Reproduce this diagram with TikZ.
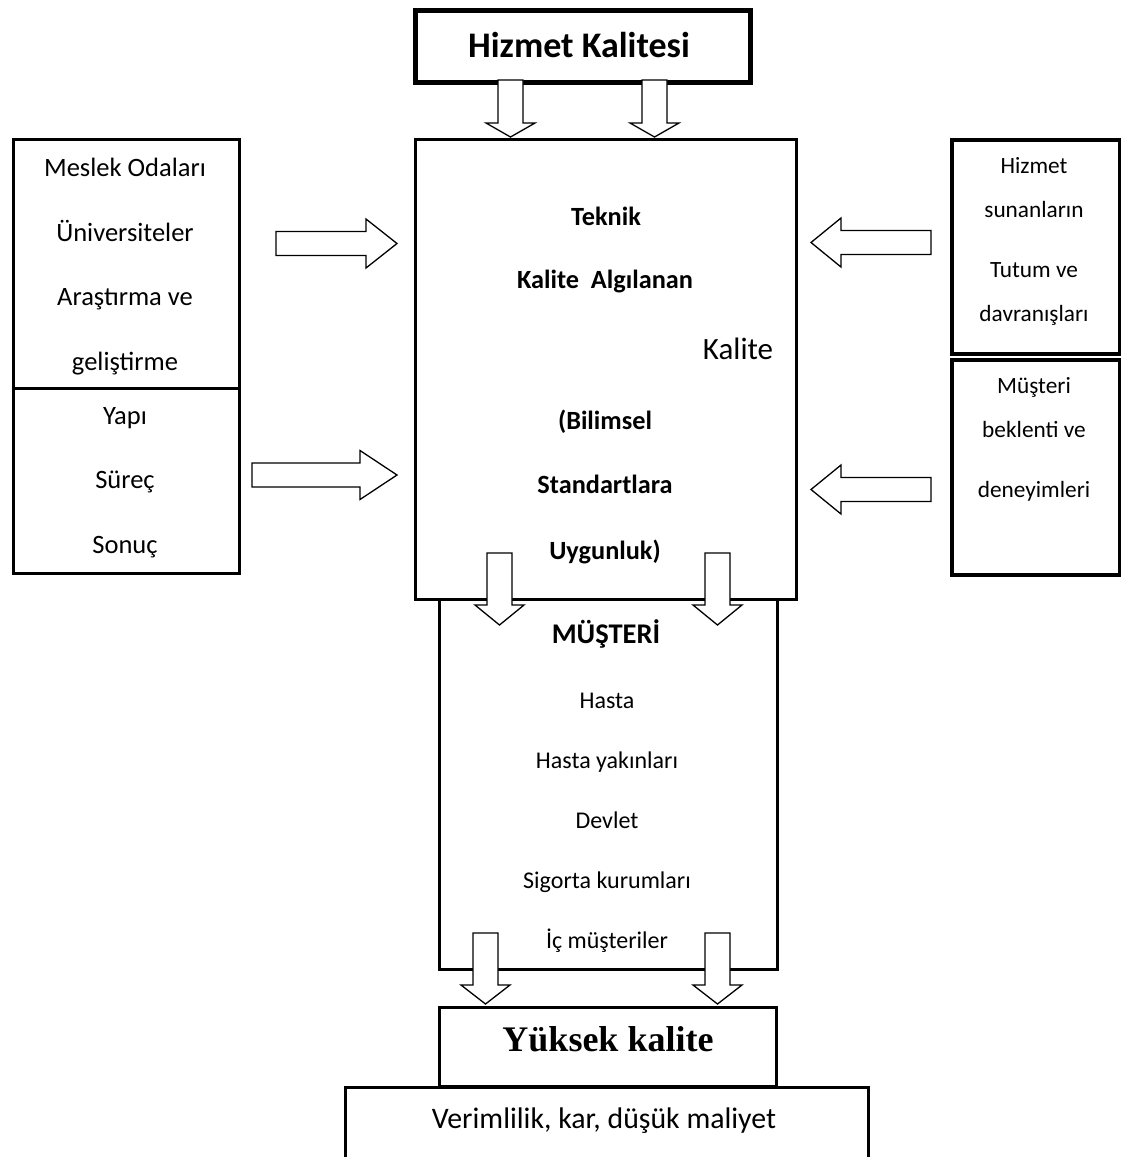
\documentclass[tikz,border=0pt]{standalone}
\usepackage{fontspec}
\setmainfont{Carlito}
\newfontfamily\timesf{Liberation Serif}
\tikzset{
  box/.style={draw, line width=3.2pt, rectangle, inner sep=0pt, anchor=north west},
  barrow/.style={draw, fill=white, line width=1.3pt, line join=miter},
  tl/.style={anchor=base, inner sep=0pt, font=\fontsize{26.5}{30}\selectfont},
  tr/.style={anchor=base, inner sep=0pt, font=\fontsize{23.3}{27}\selectfont},
  tc/.style={anchor=base, inner sep=0pt, font=\fontsize{26.3}{30}\selectfont\bfseries},
  tm/.style={anchor=base, inner sep=0pt, font=\fontsize{24}{27}\selectfont},
}
\newcommand\darr[4]{\draw[barrow] ({#1-12.5},#2) -- ({#1+12.5},#2) -- ({#1+12.5},#3) -- ({#1+24.5},#3) -- (#1,#4) -- ({#1-24.5},#3) -- ({#1-12.5},#3) -- cycle;}
\newcommand\rarr[4]{\draw[barrow] (#1,{#4-12}) -- (#2,{#4-12}) -- (#2,{#4-24.5}) -- (#3,#4) -- (#2,{#4+24.5}) -- (#2,{#4+12}) -- (#1,{#4+12}) -- cycle;}
\begin{document}
\begin{tikzpicture}[x=1pt,y=-1pt]
\useasboundingbox (0,0) rectangle (1120,1157);
% boxes
\node[box, line width=4.5pt, minimum width=335pt, minimum height=72pt] (top) at (413,8) {};
\node[box, minimum width=381pt, minimum height=460pt] (center) at (414,138) {};
\node[box, minimum width=338pt, minimum height=370pt] (mus) at (438,598) {};
\node[box, minimum width=226pt, minimum height=249pt] (lu) at (12,138) {};
\node[box, minimum width=226pt, minimum height=185pt] (ll) at (12,387) {};
\node[box, line width=4pt, minimum width=168pt, minimum height=214pt] (ru) at (950,138) {};
\node[box, line width=4pt, minimum width=168pt, minimum height=215pt] (rl) at (950,358) {};
\node[box, minimum width=337pt, minimum height=79pt] (yk) at (438,1006) {};
\node[box, minimum width=523pt, minimum height=90pt] (ver) at (344,1086) {};
% arrows
\darr{510.5}{80}{123}{137}
\darr{654.5}{80}{123}{137}
\rarr{276}{366}{397}{243.5}
\rarr{252}{360}{397}{475}
\rarr{931}{841}{811}{242.5}
\rarr{931}{841}{811}{489.5}
\darr{499.5}{553}{605}{625}
\darr{717.5}{553}{605}{625}
\darr{485.5}{933}{985}{1004}
\darr{717.5}{933}{985}{1004}
% texts
\node[anchor=base, inner sep=0pt, font=\fontsize{36}{40}\selectfont\bfseries] (t0) at (579,57) {Hizmet Kalitesi};
\node[tl] (l1) at (125,176) {Meslek Odaları};
\node[tl] (l2) at (125,241) {Üniversiteler};
\node[tl] (l3) at (125,305) {Araştırma ve};
\node[tl] (l4) at (125,370) {geliştirme};
\node[tl] (l5) at (125,424) {Yapı};
\node[tl] (l6) at (125,488) {Süreç};
\node[tl] (l7) at (125,553) {Sonuç};
\node[tr] (r1) at (1034,173) {Hizmet};
\node[tr] (r2) at (1034,217) {sunanların};
\node[tr] (r3) at (1034,277) {Tutum ve};
\node[tr] (r4) at (1034,321) {davranışları};
\node[tr] (r5) at (1034,393) {Müşteri};
\node[tr] (r6) at (1034,437) {beklenti ve};
\node[tr] (r7) at (1034,497) {deneyimleri};
\node[tc] (c1) at (606,225) {Teknik};
\node[tc] (c2) at (605,288) {Kalite\ \ Algılanan};
\node[anchor=base, inner sep=0pt, font=\fontsize{31}{35}\selectfont] (c3) at (738,359) {Kalite};
\node[tc] (c4) at (605,429) {(Bilimsel};
\node[tc] (c5) at (605,493) {Standartlara};
\node[tc] (c6) at (605,559) {Uygunluk)};
\node[anchor=base, inner sep=0pt, font=\fontsize{28.5}{32}\selectfont\bfseries] (m0) at (606,643) {MÜŞTERİ};
\node[tm] (m1) at (607,708) {Hasta};
\node[tm] (m2) at (607,768) {Hasta yakınları};
\node[tm] (m3) at (607,828) {Devlet};
\node[tm] (m4) at (607,888) {Sigorta kurumları};
\node[tm] (m5) at (607,948) {İç müşteriler};
\node[anchor=base, inner sep=0pt, font=\timesf\fontsize{36}{40}\selectfont\bfseries] (y0) at (608,1051) {Yüksek kalite};
\node[anchor=base, inner sep=0pt, font=\fontsize{29.8}{33}\selectfont] (v0) at (604,1128) {Verimlilik, kar, düşük maliyet};
\end{tikzpicture}
\end{document}
